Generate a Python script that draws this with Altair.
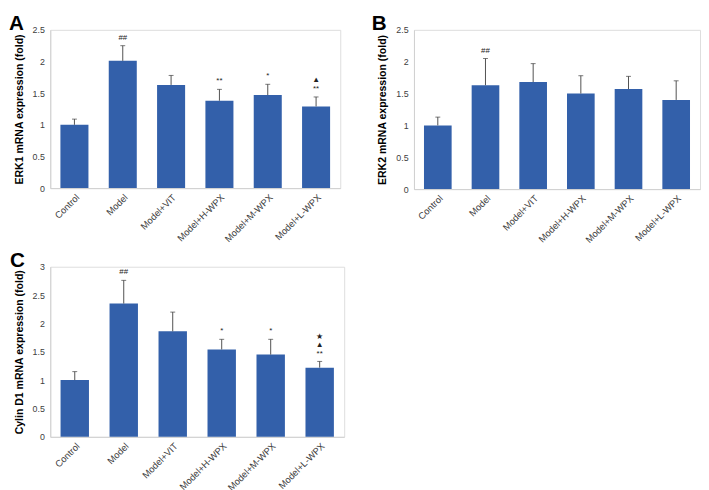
import altair as alt
import pandas as pd

groups = ["Control", "Model", "Model+VIT", "Model+H-WPX", "Model+M-WPX", "Model+L-WPX"]

erk1_mean = [1.00, 2.01, 1.63, 1.38, 1.47, 1.29]
erk1_err = [1.09, 2.25, 1.78, 1.56, 1.64, 1.44]
erk1_mark1 = ["", "##", "", "**", "*", "**"]
erk1_mark2 = ["", "", "", "", "", "▲"]
erk1_mark3 = ["", "", "", "", "", ""]

erk2_mean = [1.00, 1.63, 1.68, 1.50, 1.57, 1.40]
erk2_err = [1.13, 2.05, 1.97, 1.78, 1.77, 1.70]
erk2_mark1 = ["", "##", "", "", "", ""]
erk2_mark2 = ["", "", "", "", "", ""]
erk2_mark3 = ["", "", "", "", "", ""]

ccnd1_mean = [1.00, 2.35, 1.86, 1.54, 1.45, 1.22]
ccnd1_err = [1.15, 2.76, 2.20, 1.72, 1.72, 1.33]
ccnd1_mark1 = ["", "##", "", "*", "*", "**"]
ccnd1_mark2 = ["", "", "", "", "", "▲"]
ccnd1_mark3 = ["", "", "", "", "", "★"]

BAR = "#3360AA"
FONT = "Liberation Sans"


def panel(letter, title, mean, err, m1, m2, m3, ymax, width, height, dx):
    df = pd.DataFrame({"group": groups, "mean": mean, "err": err,
                       "m1": m1, "m2": m2, "m3": m3})
    xs = alt.X("group:N", sort=groups, title=None,
               scale=alt.Scale(paddingInner=0.42, paddingOuter=0.21),
               axis=alt.Axis(labelAngle=-45, labelFontSize=9.5, labelColor="#404040",
                             labelFont=FONT, ticks=False, domainColor="#d0d0d0",
                             labelPadding=4, labelOverlap=False))
    yscale = alt.Scale(domain=[0, ymax], nice=False, zero=True)
    yaxis = alt.Axis(values=[v / 2 for v in range(int(ymax * 2) + 1)], format="~g",
                     grid=False, ticks=False, labelFontSize=9, labelColor="#404040",
                     labelFont=FONT, domainColor="#d0d0d0", labelPadding=6,
                     labelOverlap=False,
                     titleFont=FONT, titleFontSize=10.7, titleFontWeight="bold",
                     titleColor="#000000", titlePadding=8)

    def ye(field):
        return alt.Y(f"{field}:Q", title=title, scale=yscale, axis=yaxis)

    base = alt.Chart(df)
    bars = base.mark_bar(color=BAR).encode(x=xs, y=ye("mean"))
    rule = base.mark_rule(color="#505050", strokeWidth=1).encode(
        x=xs, y=ye("mean"), y2="err:Q")
    cap = base.mark_tick(color="#404040", thickness=1, size=5, orient="horizontal").encode(
        x=xs, y=ye("err"))
    layers = [bars, rule, cap]
    for field, dy in (("m1", -4), ("m2", -13), ("m3", -21)):
        layers.append(base.transform_filter(f"datum.{field} != ''").mark_text(
            fontSize=8, font=FONT, color="#222222", baseline="bottom", dy=dy).encode(
            x=xs, y=ye("err"), text=f"{field}:N"))
    return alt.layer(*layers).properties(
        width=width, height=height,
        title=alt.TitleParams(letter, anchor="start", frame="group", dx=dx,
                              fontSize=21, font=FONT, fontWeight="bold", color="#000000",
                              offset=-8))


a = panel("A", "ERK1 mRNA expression (fold)", erk1_mean, erk1_err,
          erk1_mark1, erk1_mark2, erk1_mark3, 2.5, 295, 161, -42)
b = panel("B", "ERK2 mRNA expression (fold)", erk2_mean, erk2_err,
          erk2_mark1, erk2_mark2, erk2_mark3, 2.5, 291, 162, -43)
c = panel("C", "Cylin D1 mRNA expression (fold)", ccnd1_mean, ccnd1_err,
          ccnd1_mark1, ccnd1_mark2, ccnd1_mark3, 3.0, 299, 173, -41)

chart = alt.vconcat(alt.hconcat(a, b, spacing=30), c, spacing=4).configure_view(
    strokeWidth=0).configure(background="#ffffff", padding=0)

chart.save("out.html", embed_options={"renderer": "svg", "actions": False})
